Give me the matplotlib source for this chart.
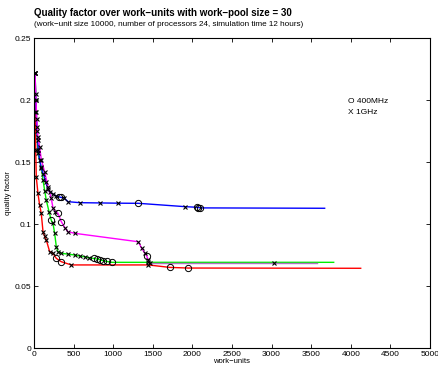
import matplotlib
matplotlib.use('Agg')
import matplotlib.pyplot as plt

plt.rcParams['font.family'] = ['Liberation Sans', 'DejaVu Sans']

# blue series
blue_x = [13, 20, 28, 35, 45, 55, 70, 92, 120, 150, 177, 198, 240, 282, 310, 340, 380,
          430, 581, 833, 1065, 1318, 1907, 2054, 2075, 2100, 3670]
blue_y = [0.222, 0.205, 0.19, 0.178, 0.168, 0.16, 0.152, 0.145, 0.14, 0.134, 0.128, 0.126,
          0.124, 0.1225, 0.122, 0.1215, 0.121, 0.118, 0.1172, 0.1170, 0.1168, 0.1167,
          0.1140, 0.1135, 0.1133, 0.1130, 0.1127]
# processor per point: o = 400MHz, x = 1GHz, - = none
blue_cpu = "xxxxxxxxxxxxxxooxxxxxoxooo-"

# magenta series
mag_x = [13, 25, 35, 50, 72, 92, 135, 177, 218, 240, 270, 303, 345, 390, 429, 514,
         1317, 1360, 1401, 1425, 1443, 1465, 3027, 3570]
mag_y = [0.222, 0.2, 0.185, 0.17, 0.162, 0.152, 0.142, 0.130, 0.1207, 0.113, 0.11,
         0.1086, 0.1019, 0.097, 0.0938, 0.0925, 0.0857, 0.0804, 0.0764, 0.074, 0.071,
         0.0683, 0.0683, 0.0683]
mag_cpu = "xxxxxxxxxxxooxxxxxxoxxx-"

# green series
green_x = [13, 25, 38, 50, 92, 114, 135, 156, 190, 218, 240, 261, 282, 303, 345, 430,
           514, 581, 640, 700, 760, 791, 830, 875, 920, 981, 1443, 3784]
green_y = [0.222, 0.2, 0.175, 0.157, 0.146, 0.1355, 0.127, 0.119, 0.11, 0.103, 0.1005,
           0.0925, 0.0817, 0.0777, 0.0764, 0.0757, 0.075, 0.0742, 0.0736, 0.0728,
           0.0722, 0.0718, 0.0712, 0.0704, 0.0698, 0.0691, 0.0691, 0.0691]
green_cpu = "xxxxxxxxxoxxxxxxxxxxoooooox-"

# red series
red_x = [13, 18, 22, 29, 50, 72, 92, 114, 135, 156, 198, 240, 282, 345, 471, 1443,
         1717, 1948, 4125]
red_y = [0.222, 0.19, 0.16, 0.138, 0.1248, 0.115, 0.1086, 0.0938, 0.09, 0.087, 0.0777,
         0.0764, 0.0723, 0.0696, 0.067, 0.067, 0.065, 0.0645, 0.0643]
red_cpu = "xxxxxxxxxxxxooxxoo-"

series = [
    (green_x, green_y, green_cpu, '#00ee00'),
    (red_x, red_y, red_cpu, '#ff0000'),
    (blue_x, blue_y, blue_cpu, '#0000ff'),
    (mag_x, mag_y, mag_cpu, '#ff00ff'),
]

fig = plt.figure(figsize=(4.39, 3.68), dpi=100)
ax = fig.add_axes([0.0774, 0.0543, 0.9021, 0.8424])

for xs, ys, cpu, col in series:
    if col == '#ff00ff':
        # flat tail lies on the green line and shows as a purple blend
        ax.plot(xs[:-2], ys[:-2], color=col, lw=1.0, zorder=2)
        ax.plot(xs[-3:], ys[-3:], color='#b070c0', lw=1.0, zorder=2)
    else:
        ax.plot(xs, ys, color=col, lw=1.0, zorder=2)
    ox = [x for x, c in zip(xs, cpu) if c == 'o']
    oy = [y for y, c in zip(ys, cpu) if c == 'o']
    xx = [x for x, c in zip(xs, cpu) if c == 'x']
    xy = [y for y, c in zip(ys, cpu) if c == 'x']
    ax.plot(xx, xy, ls='none', marker='x', ms=3.2, mew=0.8, color='k', zorder=3)
    ax.plot(ox, oy, ls='none', marker='o', ms=4.5, mew=0.7, mfc='none', mec='k', zorder=3)

ax.text(3965, 0.199, 'O 400MHz', fontsize=6, va='center')
ax.text(3965, 0.190, 'X 1GHz', fontsize=6, va='center')

ax.set_xlim(0, 5000)
ax.set_ylim(0, 0.25)
ax.set_xticks(range(0, 5001, 500))
ax.set_yticks([0, 0.05, 0.1, 0.15, 0.2, 0.25])
ax.set_yticklabels(['0', '0.05', '0.1', '0.15', '0.2', '0.25'])
ax.tick_params(direction='in', labelsize=6, length=3, width=0.6, top=True, right=True, pad=2)
for s in ax.spines.values():
    s.set_linewidth(0.8)
ax.set_xlabel('work\u2212units', fontsize=5.5, labelpad=0)
ax.set_ylabel('quality factor', fontsize=5.5, labelpad=2)

fig.text(0.0774, 0.965, 'Quality factor over work\u2212units with work\u2212pool size = 30',
         fontsize=7, fontweight='bold', va='center')
fig.text(0.0774, 0.934, '(work\u2212unit size 10000, number of processors 24, simulation time 12 hours)',
         fontsize=5.9, va='center')

fig.savefig('out.png', dpi=100)
